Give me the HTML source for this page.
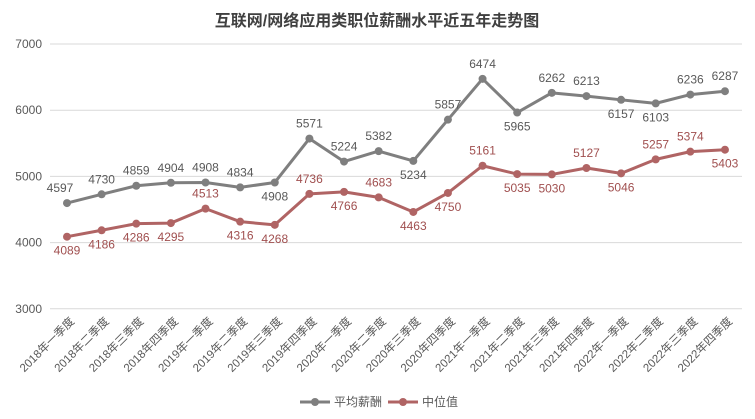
<!DOCTYPE html>
<html><head><meta charset="utf-8"><style>
html,body{margin:0;padding:0;background:#fff;}
svg{display:block;font-family:"Liberation Sans","Noto Sans CJK SC",sans-serif;}
</style></head><body>
<svg id="c" width="755" height="419" xmlns="http://www.w3.org/2000/svg">
<rect width="755" height="419" fill="#fff"/>
<text x="377" y="26" text-anchor="middle" font-size="16" font-weight="bold" fill="#404040">互联网/网络应用类职位薪酬水平近五年走势图</text>
</svg>
<script>
const s=document.getElementById('c'),NS="http://www.w3.org/2000/svg";
function el(t,a,txt){const e=document.createElementNS(NS,t);for(const k in a)e.setAttribute(k,a[k]);if(txt!==undefined)e.textContent=txt;s.appendChild(e);return e;}
const Y=v=>44+(7000-v)*0.0662;
const X=i=>67+i*34.63;
for(let v=3000;v<=7000;v+=1000){el('line',{x1:50,x2:742,y1:Y(v),y2:Y(v),stroke:'#d9d9d9','stroke-width':1});
el('text',{x:42,y:Y(v)+4,'text-anchor':'end','font-size':12,fill:'#595959'},v);}
const g=[4597,4730,4859,4904,4908,4834,4908,5571,5224,5382,5234,5857,6474,5965,6262,6213,6157,6103,6236,6287];
const r=[4089,4186,4286,4295,4513,4316,4268,4736,4766,4683,4463,4750,5161,5035,5030,5127,5046,5257,5374,5403];
const gBelow=[6,10,13,16,17];
const rAbove=[4,7,9,12,15,17,18];
function series(d,col,lc,below){
 el('polyline',{points:d.map((v,i)=>X(i)+','+Y(v)).join(' '),fill:'none',stroke:col,'stroke-width':3,'stroke-linejoin':'round'});
 d.forEach((v,i)=>{el('circle',{cx:X(i),cy:Y(v),r:4,fill:col});
  const b=below(i);
  let dy=b?18:-11; let dx=0;
  if(i==0&&col=='#7f7f7f'){dx=-7;}
  el('text',{x:X(i)+dx,y:Y(v)+dy,'text-anchor':'middle','font-size':12,fill:lc},v);});
}
series(g,'#7f7f7f','#595959',i=>gBelow.includes(i));
series(r,'#b06464','#a04f4f',i=>!rAbove.includes(i));
const qs=['一','二','三','四'];
for(let i=0;i<20;i++){const yr=2018+Math.floor(i/4),q=qs[i%4];
 const x=X(i)+8,y=322;
 el('text',{x:x,y:y,'text-anchor':'end','font-size':11.5,fill:'#595959',transform:`rotate(-45 ${x} ${y})`},`${yr}年${q}季度`);}
el('line',{x1:300,x2:330,y1:402,y2:402,stroke:'#7f7f7f','stroke-width':3});
el('circle',{cx:315,cy:402,r:4,fill:'#7f7f7f'});
el('text',{x:334,y:406,'font-size':12,fill:'#595959'},'平均薪酬');
el('line',{x1:388,x2:418,y1:402,y2:402,stroke:'#b06464','stroke-width':3});
el('circle',{cx:403,cy:402,r:4,fill:'#b06464'});
el('text',{x:422,y:406,'font-size':12,fill:'#595959'},'中位值');
</script>
</body></html>
